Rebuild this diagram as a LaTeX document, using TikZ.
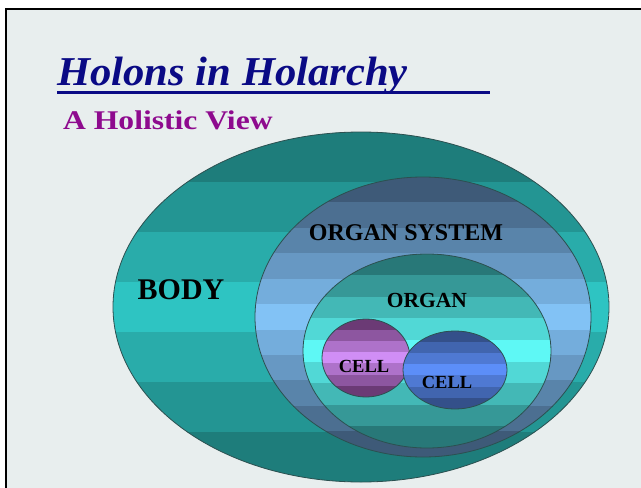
\documentclass[tikz,border=0pt]{standalone}
\usepackage{fontspec}
\setmainfont{Liberation Serif}
\usetikzlibrary{shapes.geometric, calc}
\definecolor{cpaper}{HTML}{E8EEEE}
\definecolor{cnavy}{HTML}{0A0A85}
\definecolor{cplum}{HTML}{8E0A8E}
\definecolor{cedge}{HTML}{2C5050}
\definecolor{cbodyout}{HTML}{1E7D7B}
\definecolor{cbodyin}{HTML}{2EC4C2}
\definecolor{csysout}{HTML}{3E5A78}
\definecolor{csysin}{HTML}{82C2F5}
\definecolor{corgout}{HTML}{287878}
\definecolor{corgin}{HTML}{5EF8F5}
\definecolor{cpurpout}{HTML}{6B3A75}
\definecolor{cpurpin}{HTML}{D08EF5}
\definecolor{cblueout}{HTML}{34508A}
\definecolor{cbluein}{HTML}{5C8EF8}

\begin{document}
\begin{tikzpicture}[
	x=1pt, y=-1pt,
	% Style for the nested ellipses
	holon/.style={
		ellipse,
		draw=cedge,
		line width=0.8pt,
		inner sep=0pt
	},
	% Horizontal bands: outer colour, inner colour, number of bands
	bands/.style n args={3}{
		path picture={
			\foreach \k in {1,...,#3}{
				\pgfmathsetmacro\mixp{100*(1-abs(2*\k-1-#3)/(#3-1))}
				\path[fill=#2!\mixp!#1, draw=#2!\mixp!#1, line width=0.4pt]
				($(path picture bounding box.north west)!{(\k-1)/#3}!(path picture bounding box.south west)$)
				rectangle
				($(path picture bounding box.north east)!{\k/#3}!(path picture bounding box.south east)$);
			}
		}
	},
	% Style for the labels inside the ellipses
	holonlabel/.style={
		inner sep=0pt,
		text=black,
		font=\bfseries
	}
	]
	
	% --- Background and frame ---
	\useasboundingbox (0,0) rectangle (641,488);
	\fill[white] (0,0) rectangle (641,488);
	\fill[cpaper] (6,9) rectangle (641,488);
	\draw[line width=2pt] (641,9) -- (6,9) -- (6,488);
	
	% --- Title ---
	\node[anchor=base west, inner sep=0pt, text=cnavy, font=\fontsize{41}{48}\selectfont\bfseries\itshape]
	(title) at (57,85) {\scalebox{1.04}[1]{Holons in Holarchy}};
	\draw[cnavy, line width=3pt] ($(title.base west)+(0,7)$) -- ++(433,0);
	\node[anchor=base west, inner sep=0pt, text=cplum, font=\fontsize{27}{32}\selectfont\bfseries]
	(subtitle) at (63,129) {\scalebox{1.17}[1]{A Holistic View}};
	
	% --- Nested holons ---
	\node[holon, bands={cbodyout}{cbodyin}{7}, minimum width=496, minimum height=350]
	(body) at (361,307) {};
	\node[holon, bands={csysout}{csysin}{11}, minimum width=336, minimum height=280]
	(organsys) at (423,317) {};
	\node[holon, bands={corgout}{corgin}{9}, minimum width=248, minimum height=194]
	(organ) at (427,351) {};
	\node[holon, bands={cpurpout}{cpurpin}{7}, minimum width=88, minimum height=78]
	(cellA) at (366,358) {};
	\node[holon, bands={cblueout}{cbluein}{7}, minimum width=104, minimum height=78]
	(cellB) at (455,370) {};
	
	% Labels
	\node[holonlabel, font=\fontsize{30}{36}\selectfont\bfseries] (bodylbl) at (181,290) {BODY};
	\node[holonlabel, font=\fontsize{24}{29}\selectfont\bfseries] (organsyslbl) at (406,233) {ORGAN SYSTEM};
	\node[holonlabel, font=\fontsize{21.5}{26}\selectfont\bfseries] (organlbl) at (427,300) {ORGAN};
	\node[holonlabel, font=\fontsize{18.5}{22}\selectfont\bfseries] (cellAlbl) at (364,366) {CELL};
	\node[holonlabel, font=\fontsize{18.5}{22}\selectfont\bfseries] (cellBlbl) at (447,382) {CELL};
	
\end{tikzpicture}
\end{document}
